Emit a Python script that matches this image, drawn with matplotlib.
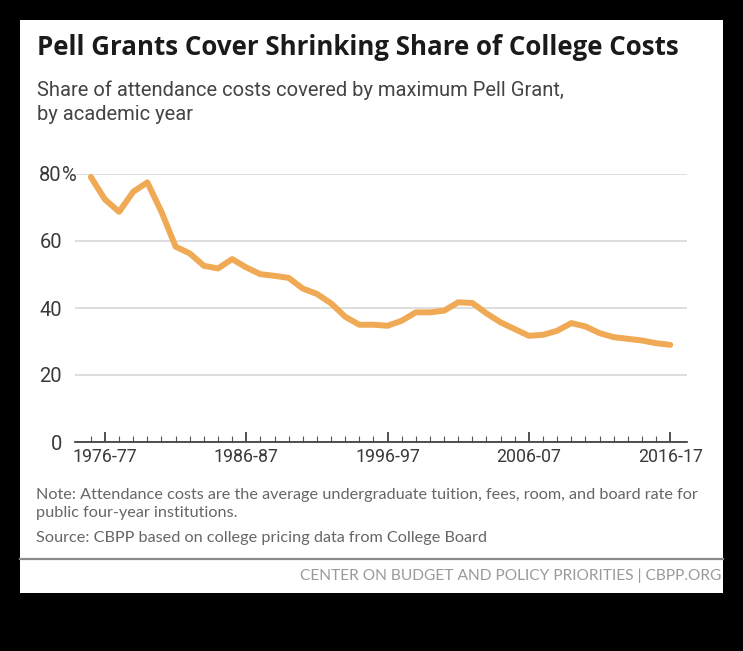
import matplotlib
matplotlib.use("Agg")
import matplotlib.pyplot as plt
import matplotlib.transforms as mtransforms
from matplotlib.patches import Rectangle
from matplotlib.lines import Line2D

# ============ Data ============
# first year of each academic year (1975 = 1975-76)
start_years = list(range(1975, 2017))
pell_share = [79.1, 72.4, 68.7, 74.7, 77.5, 68.7, 58.3, 56.3, 52.6, 51.8,
              54.6, 52.1, 50.1, 49.6, 49.0, 45.8, 44.2, 41.4, 37.4, 35.0,
              35.0, 34.7, 36.2, 38.7, 38.7, 39.2, 41.7, 41.5, 38.4, 35.7,
              33.7, 31.7, 32.0, 33.2, 35.5, 34.5, 32.5, 31.3, 30.8, 30.3,
              29.5, 29.0]

major_years = [1976, 1986, 1996, 2006, 2016]
major_labels = ["1976-77", "1986-87", "1996-97", "2006-07", "2016-17"]
y_ticks = [0, 20, 40, 60, 80]
y_labels = ["0", "20", "40", "60", "80"]

title = "Pell Grants Cover Shrinking Share of College Costs"
subtitle = ["Share of attendance costs covered by maximum Pell Grant,",
            "by academic year"]
note = ["Note: Attendance costs are the average undergraduate tuition, fees, room, and board rate for",
        "public four-year institutions."]
source = "Source: CBPP based on college pricing data from College Board"
footer = "CENTER ON BUDGET AND POLICY PRIORITIES | CBPP.ORG"

W, H = 743, 651
ORANGE = "#F0A955"
tick_font = ["Roboto", "DejaVu Sans"]

# ============ Figure & card ============
fig = plt.figure(figsize=(W / 100, H / 100), dpi=100, facecolor="black")
fig.patches.append(Rectangle((20 / W, 1 - 593 / H), 703 / W, 573 / H,
                             transform=fig.transFigure, facecolor="white",
                             edgecolor="none", zorder=-5))

# ============ Plot ============
ax = fig.add_axes([75 / W, 1 - 442 / H, 612 / W, 268 / H])
ax.set_facecolor("none")
ax.plot(start_years, pell_share, color=ORANGE, lw=4.3,
        solid_joinstyle="round", solid_capstyle="round", clip_on=False, zorder=3)

ax.set_xlim(1973.88, 2017.19)
ax.set_ylim(0, 80)

for s in ["top", "right", "left"]:
    ax.spines[s].set_visible(False)
ax.spines["bottom"].set_color("#333333")
ax.spines["bottom"].set_linewidth(1.2)

ax.set_yticks(y_ticks)
ax.set_yticklabels(y_labels, family=tick_font, fontsize=14.5, color="#3a3a3a")
ax.tick_params(axis="y", length=0, pad=9.4)
ax.grid(axis="y", color="#d4d4d4", lw=1.1, zorder=1)

ax.set_xticks(major_years)
ax.set_xticklabels(major_labels, family=tick_font, fontsize=12.8, color="#3a3a3a")
ax.set_xticks([y for y in start_years if y not in major_years], minor=True)
ax.tick_params(axis="x", which="major", direction="in", length=7.2,
               width=1.2, color="#333333", pad=4)
ax.tick_params(axis="x", which="minor", direction="in", length=4.3,
               width=0.8, color="#555555")

# hanging percent sign on the top label
trans = mtransforms.blended_transform_factory(ax.transAxes, ax.transData)
ax.text(-13 / 612, y_ticks[-1], "%", transform=trans, ha="left",
        va="center_baseline", family=tick_font, fontsize=14.5, color="#3a3a3a")

# ============ Texts ============
fig.text(37 / W, 1 - 55 / H, title, family=["Open Sans", "DejaVu Sans"],
         fontweight="bold", fontsize=18.6, color="#1a1a1a", va="baseline")
fig.text(37 / W, 1 - 96 / H, subtitle[0], family=["Roboto", "DejaVu Sans"],
         fontsize=14.5, color="#444444", va="baseline")
fig.text(37 / W, 1 - 120 / H, subtitle[1], family=["Roboto", "DejaVu Sans"],
         fontsize=14.5, color="#444444", va="baseline")

fig.text(36 / W, 1 - 499 / H, note[0], family=["Lato", "DejaVu Sans"],
         fontsize=11.7, color="#666666", va="baseline")
fig.text(36 / W, 1 - 517 / H, note[1], family=["Lato", "DejaVu Sans"],
         fontsize=11.7, color="#666666", va="baseline")
fig.text(36 / W, 1 - 542 / H, source, family=["Lato", "DejaVu Sans"],
         fontsize=11.7, color="#666666", va="baseline")

fig.lines.append(Line2D([20 / W, 723 / W], [1 - 559 / H, 1 - 559 / H],
                        transform=fig.transFigure, color="#8a8a8a", lw=1.6))
fig.text(721 / W, 1 - 580 / H, footer, family=["Lato", "DejaVu Sans"],
         fontsize=11.2, color="#9a9a9a", va="baseline", ha="right")

fig.savefig("out.png", dpi=100, facecolor="black")
